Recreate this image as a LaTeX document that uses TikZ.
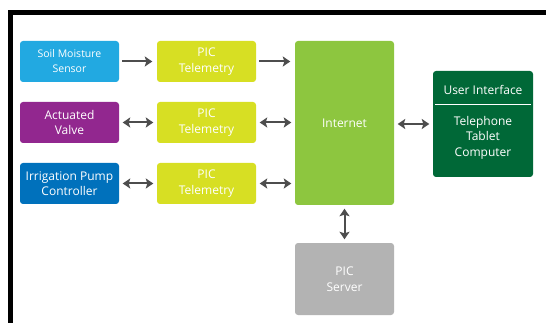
\documentclass[tikz,border=0pt]{standalone}
\usepackage{fontspec}
\setmainfont{Open Sans}
\usetikzlibrary{arrows.meta}
\definecolor{soilc}{HTML}{22A9E1}
\definecolor{valvec}{HTML}{92278F}
\definecolor{pumpc}{HTML}{0071BC}
\definecolor{picc}{HTML}{D7DF23}
\definecolor{netc}{HTML}{8DC63F}
\definecolor{uic}{HTML}{006837}
\definecolor{serverc}{HTML}{B3B3B3}
\definecolor{arrowgray}{HTML}{4D4D4D}
\begin{document}
\begin{tikzpicture}[x=1pt,y=-1pt,
  box/.style={rounded corners=3pt, text=white, align=center, inner sep=0pt,
    minimum width=99pt, minimum height=41pt, font=\fontsize{12}{15.5}\selectfont},
  tip/.tip={Stealth[length=7.5pt,width=10pt,inset=1.5pt]},
  arr/.style={draw=arrowgray, line width=2pt, -tip, shorten <=3pt, shorten >=4.5pt},
  darr/.style={draw=arrowgray, line width=2pt, tip-tip, shorten <=3.5pt, shorten >=3.5pt},
  txt/.style={text=white, align=center, inner sep=0pt, font=\fontsize{12}{15.5}\selectfont}]
\useasboundingbox (0,0) rectangle (546,323);
\begin{scope}
\clip (0,0) rectangle (546,323);
\draw[line width=5pt] (10.5,12.5) rectangle (600,400);
\end{scope}
% left column
\node[box, fill=soilc, font=\fontsize{10.5}{15}\selectfont] (soil) at (69.5,61.5) {Soil Moisture\\Sensor};
\node[box, fill=valvec] (valve) at (69.5,122.5) {Actuated\\Valve};
\node[box, fill=pumpc] (pump) at (69.5,183.5) {Irrigation Pump\\Controller};
% telemetry column
\node[box, fill=picc] (pic1) at (206.5,61.5) {PIC\\Telemetry};
\node[box, fill=picc] (pic2) at (206.5,122.5) {PIC\\Telemetry};
\node[box, fill=picc] (pic3) at (206.5,183.5) {PIC\\Telemetry};
% internet
\node[box, fill=netc, minimum height=164pt] (net) at (344.5,123) {Internet};
% server
\node[box, fill=serverc, minimum height=72pt] (server) at (344.5,279) {PIC\\Server};
% user interface
\node[box, fill=uic, minimum width=100pt, minimum height=106pt] (ui) at (483,124) {};
\node[txt] (uititle) at (483,89.5) {User Interface};
\node[txt] (uidev) at (483,137.5) {Telephone\\Tablet\\Computer};
\draw[white, line width=1pt] ([xshift=2pt,yshift=-34pt]ui.north west) -- ([xshift=-2pt,yshift=-34pt]ui.north east);
% connectors
\draw[arr] (soil) -- (pic1);
\draw[arr] (pic1.east) -- (pic1.east -| net.west);
\draw[darr] (valve) -- (pic2);
\draw[darr] (pic2.east) -- (pic2.east -| net.west);
\draw[darr] (pump) -- (pic3);
\draw[darr] (pic3.east) -- (pic3.east -| net.west);
\draw[darr] (net.east |- ui.west) -- (ui.west);
\draw[darr] (net.south) -- (server.north);
\end{tikzpicture}
\end{document}
